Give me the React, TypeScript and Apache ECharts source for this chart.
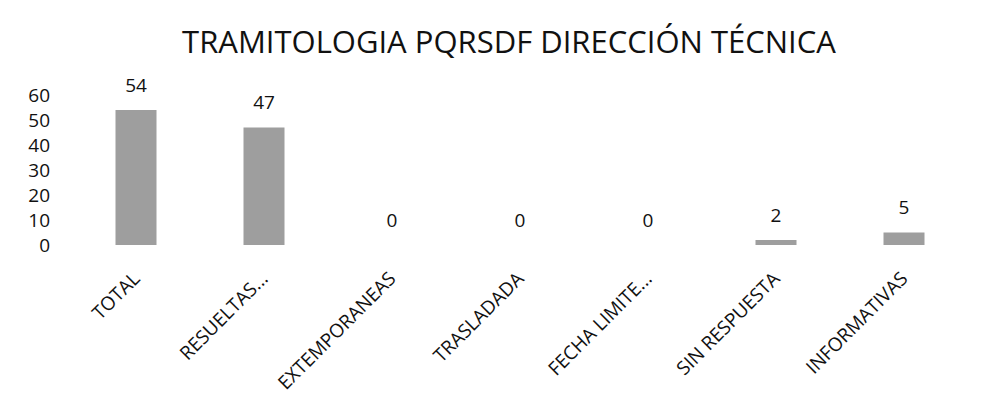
import React, { useEffect, useRef } from "react";
import * as echarts from "echarts";

const categories = [
  "TOTAL",
  "RESUELTAS...",
  "EXTEMPORANEAS",
  "TRASLADADA",
  "FECHA LIMITE...",
  "SIN RESPUESTA",
  "INFORMATIVAS",
];
const values = [54, 47, 0, 0, 0, 2, 5];
const yTicks = [0, 10, 20, 30, 40, 50, 60];

const FONT = "'Open Sans', sans-serif";

export default function App() {
  const ref = useRef<HTMLDivElement>(null);
  useEffect(() => {
    if (!ref.current) return;
    const chart = echarts.init(ref.current, undefined, { renderer: "svg" });
    chart.setOption({
      animation: false,
      backgroundColor: "#ffffff",
      title: {
        text: "TRAMITOLOGIA PQRSDF DIRECCIÓN TÉCNICA",
        left: 496,
        textAlign: "center",
        top: 12,
        textStyle: {
          fontFamily: FONT,
          fontSize: 31,
          fontWeight: "normal",
          color: "#111111",
        },
      },
      grid: { left: 64, right: 10, top: 87, bottom: 163, containLabel: false },
      xAxis: {
        type: "category",
        data: categories,
        axisLine: { show: false },
        axisTick: { show: false },
        axisLabel: {
          rotate: 45,
          interval: 0,
          margin: 30,
          fontFamily: FONT,
          fontSize: 19,
          color: "#111111",
        },
      },
      yAxis: {
        type: "value",
        min: yTicks[0],
        max: yTicks[yTicks.length - 1],
        interval: 10,
        axisLine: { show: false },
        axisTick: { show: false },
        splitLine: { show: false },
        axisLabel: {
          margin: 22,
          fontFamily: FONT,
          fontSize: 19,
          color: "#111111",
        },
      },
      series: [
        {
          type: "bar",
          data: values,
          barWidth: 41,
          itemStyle: { color: "#9e9e9e" },
          label: {
            show: true,
            position: "top",
            distance: 16,
            fontFamily: FONT,
            fontSize: 19,
            color: "#111111",
          },
        },
      ],
    });
    return () => chart.dispose();
  }, []);
  return <div ref={ref} style={{ width: 970, height: 400 }} />;
}
